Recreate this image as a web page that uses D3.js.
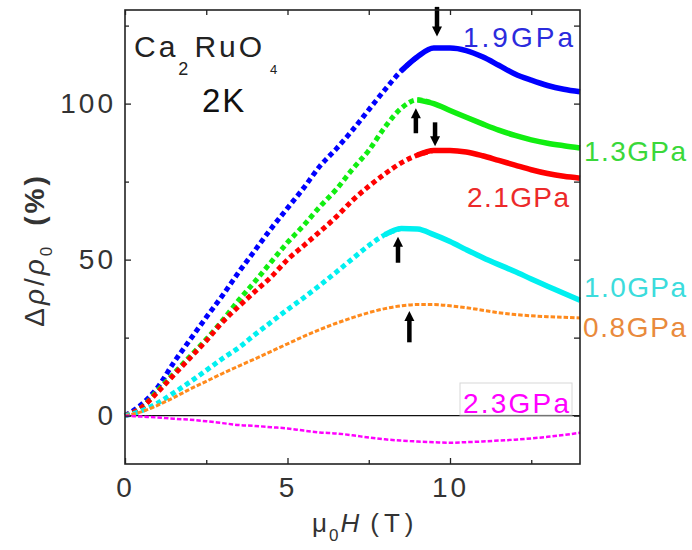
<!DOCTYPE html>
<html>
<head>
<meta charset="utf-8">
<script src="https://cdn.jsdelivr.net/npm/d3@7"></script>
<style>
body { margin: 0; background: #fff; }
svg { display: block; }
</style>
</head>
<body>
<script>
// field values (T)
var fieldT = [0, 0.5, 1, 1.5, 2, 2.5, 3, 3.5, 4, 4.5, 5, 5.5, 6, 6.5, 7,
              7.5, 8, 8.5, 9, 9.5, 10, 10.5, 11, 11.5, 12, 12.5, 13, 13.5, 14];

// magnetoresistance (%) for each pressure
var mr19 = [0, 3.5, 9, 17, 24.3, 31.5, 38.5, 46, 53, 60, 66.5, 73, 80, 85.5, 91.5,
            98, 104.5, 110.5, 115, 117.8, 117.8, 117, 115, 112.3, 109.5, 107.5, 105.8, 104.6, 103.8];
var mr13 = [0, 2.5, 8, 13.5, 19, 24.5, 30.5, 37, 43, 49.3, 55.5, 61, 67, 72.5, 79,
            85, 92.5, 98.5, 101.2, 100, 97.8, 95.6, 93.5, 91.5, 89.8, 88.4, 87.3, 86.5, 85.8];
var mr21 = [0, 2.5, 7.5, 13, 18.5, 24, 30, 35, 39.8, 44.5, 50, 54.5, 59, 63.7, 69,
            73.5, 77.5, 81, 83.5, 85, 85, 84.5, 83.3, 81.8, 80.3, 78.8, 77.6, 76.7, 76.1];
var mr10 = [0, 1.5, 4, 7.3, 10.8, 14.5, 18.3, 21.8, 26, 30, 34, 37.8, 41.8, 46, 50.3,
            54.5, 58, 60, 59.8, 58, 55.8, 53.2, 50.7, 48.4, 46.2, 43.8, 41.5, 39.2, 37];
var mr08 = [0, 1.2, 3.3, 5.8, 8.5, 11, 13.5, 15.9, 18.2, 20.6, 23, 25.4, 27.6, 29.6, 31.4,
            33, 34.3, 35.2, 35.6, 35.6, 35.2, 34.6, 33.8, 33, 32.4, 32, 31.7, 31.5, 31.3];
var mr23 = [0, -0.3, -0.6, -1.0, -1.3, -1.8, -2.4, -3.0, -3.3, -3.7, -4.1, -4.8, -5.4, -5.7, -6.3,
            -7.0, -7.6, -8.0, -8.3, -8.5, -8.7, -8.5, -8.3, -8.0, -7.7, -7.3, -6.8, -6.2, -5.5];

var pressureLabels = ['1.9GPa', '1.3GPa', '2.1GPa', '1.0GPa', '0.8GPa', '2.3GPa'];

// peak arrows: field, tail value, tip value
var arrowH = [9.6, 8.95, 9.54, 8.4, 8.75];
var arrowFrom = [131, 90.5, 94, 49, 23.5];
var arrowTo = [121.5, 98.5, 86.3, 57.3, 33.5];

var xTicks = [0, 5, 10], xMinor = [2.5, 7.5, 12.5];
var yTicks = [0, 50, 100], yMinor = [25, 75, 125];

var width = 692, height = 550;
var margin = {top: 10, right: 112, bottom: 86, left: 125};

// look of each curve (same order as pressureLabels)
var styles = [
    {color: '#0000ff', text: '#2b2bdd', w: 5, solidFrom: 8.8, lx: 463, ly: 47, len: 110},
    {color: '#11ee11', text: '#3ad83a', w: 5, solidFrom: 9.2, lx: 584, ly: 161, len: 102},
    {color: '#ff0000', text: '#ec2a2a', w: 5, solidFrom: 9.3, lx: 467, ly: 207, len: 102},
    {color: '#00f0f0', text: '#3cdcdc', w: 5, solidFrom: 8.3, lx: 584, ly: 297, len: 102},
    {color: '#ff8a1c', text: '#e98a3c', w: 3, solidFrom: null, lx: 583, ly: 337, len: 103},
    {color: '#ff00ff', text: '#ff00ff', w: 2.5, solidFrom: null, lx: 463, ly: 413, len: 106}
];
var allSeries = [mr19, mr13, mr21, mr10, mr08, mr23];

var svg = d3.select('body')
        .append('svg')
        .attr('width', width)
        .attr('height', height)
        .style('font-family', 'Arial, "Liberation Sans", sans-serif');

var x = d3.scaleLinear().domain([0, 14]).range([margin.left, width - margin.right]);
var y = d3.scaleLinear().domain([-15.5, 130]).range([height - margin.bottom, margin.top]);

var x0 = margin.left, x1 = width - margin.right;
var y0 = height - margin.bottom, y1 = margin.top;

// zero line
svg.append('line')
        .attr('x1', x0).attr('x2', x1)
        .attr('y1', y(0)).attr('y2', y(0))
        .attr('stroke', '#111')
        .attr('stroke-width', 1.2);

// Curves
var line = d3.line()
        .x(function(d) { return x(d[0]); })
        .y(function(d) { return y(d[1]); })
        .curve(d3.curveMonotoneX);

for (var s = 0; s < allSeries.length; s++) {
    var st = styles[s];
    var pts = fieldT.map(function(h, i) { return [h, allSeries[s][i]]; });
    if (st.solidFrom !== null) {
        var lo = pts.filter(function(d) { return d[0] <= st.solidFrom + 0.5; });
        var hi = pts.filter(function(d) { return d[0] >= st.solidFrom - 0.5; });
        svg.append('path')
                .attr('d', line(lo))
                .attr('fill', 'none')
                .attr('stroke', st.color)
                .attr('stroke-width', st.w)
                .attr('stroke-dasharray', '5 3.5');
        svg.append('path')
                .attr('d', line(hi))
                .attr('fill', 'none')
                .attr('stroke', st.color)
                .attr('stroke-width', st.w + 0.5);
    } else {
        svg.append('path')
                .attr('d', line(pts))
                .attr('fill', 'none')
                .attr('stroke', st.color)
                .attr('stroke-width', st.w)
                .attr('stroke-dasharray', '4.5 2');
    }
}

// Arrows marking the peaks
for (var a = 0; a < arrowH.length; a++) {
    var ax = x(arrowH[a]), ya = y(arrowFrom[a]), yb = y(arrowTo[a]);
    var dir = yb > ya ? 1 : -1;
    svg.append('line')
            .attr('x1', ax).attr('x2', ax)
            .attr('y1', ya).attr('y2', yb - dir * 6)
            .attr('stroke', '#000')
            .attr('stroke-width', 4.5);
    svg.append('path')
            .attr('d', 'M' + (ax - 5) + ',' + (yb - dir * 10) + 'L' + (ax + 5) + ',' + (yb - dir * 10) + 'L' + ax + ',' + yb + 'Z')
            .attr('fill', '#000');
}

// Axes
function styleAxis(g) {
    g.select('.domain').remove();
    g.selectAll('.tick line').attr('stroke', '#222').attr('stroke-width', 1.3);
    g.selectAll('text')
            .attr('fill', '#333')
            .style('font-size', '28px')
            .style('letter-spacing', '3px');
}

svg.append('g').attr('transform', 'translate(0,' + y0 + ')')
        .call(d3.axisBottom(x).tickValues(xTicks).tickSizeInner(-6).tickSizeOuter(0).tickPadding(13).tickFormat(d3.format('d')))
        .call(styleAxis);
svg.append('g').attr('transform', 'translate(0,' + y0 + ')')
        .call(d3.axisBottom(x).tickValues(xMinor).tickSizeInner(-4).tickSizeOuter(0).tickFormat(''))
        .call(styleAxis);
svg.append('g').attr('transform', 'translate(0,' + y1 + ')')
        .call(d3.axisTop(x).tickValues(xTicks.concat(xMinor)).tickSizeInner(-5).tickSizeOuter(0).tickFormat(''))
        .call(styleAxis);

svg.append('g').attr('transform', 'translate(' + x0 + ',0)')
        .call(d3.axisLeft(y).tickValues(yTicks).tickSizeInner(-6).tickSizeOuter(0).tickPadding(9).tickFormat(d3.format('d')))
        .call(styleAxis);
svg.append('g').attr('transform', 'translate(' + x0 + ',0)')
        .call(d3.axisLeft(y).tickValues(yMinor).tickSizeInner(-4).tickSizeOuter(0).tickFormat(''))
        .call(styleAxis);
svg.append('g').attr('transform', 'translate(' + x1 + ',0)')
        .call(d3.axisRight(y).tickValues(yTicks.concat(yMinor)).tickSizeInner(-6).tickSizeOuter(0).tickFormat(''))
        .call(styleAxis);

// Frame
svg.append('rect')
        .attr('x', x0).attr('y', y1)
        .attr('width', x1 - x0).attr('height', y0 - y1)
        .attr('fill', 'none')
        .attr('stroke', '#222')
        .attr('stroke-width', 1.6);

// Pressure labels
svg.append('rect')
        .attr('x', 460).attr('y', 383)
        .attr('width', 112).attr('height', 32)
        .attr('fill', '#fff')
        .attr('stroke', '#d8d8d8')
        .attr('stroke-width', 1);

svg.selectAll('text.plabel').data(pressureLabels).enter()
        .append('text')
        .attr('class', 'plabel')
        .attr('x', function(d, i) { return styles[i].lx; })
        .attr('y', function(d, i) { return styles[i].ly; })
        .attr('fill', function(d, i) { return styles[i].text; })
        .attr('textLength', function(d, i) { return styles[i].len; })
        .attr('lengthAdjust', 'spacing')
        .style('font-size', '28px')
        .text(function(d) { return d; });

// Sample and temperature
var title = svg.append('text')
        .attr('x', 134).attr('y', 57)
        .attr('fill', '#222')
        .style('font-size', '30px')
        .style('letter-spacing', '3px');
title.append('tspan').text('Ca');
title.append('tspan').attr('dy', 18).style('font-size', '18px').text('2');
title.append('tspan').attr('dy', -18).attr('dx', 3).text('RuO');
title.append('tspan').attr('dy', 17).attr('dx', 5).style('font-size', '13px').text('4');

svg.append('text')
        .attr('x', 202).attr('y', 112)
        .attr('fill', '#111')
        .style('font-size', '33px')
        .style('letter-spacing', '2px')
        .text('2K');

// Axis titles
var xt = svg.append('text')
        .attr('x', 312).attr('y', 532)
        .attr('fill', '#333')
        .style('font-size', '26px')
        .style('letter-spacing', '2px');
xt.append('tspan').text('\u03bc');
xt.append('tspan').attr('dy', 9).style('font-size', '17px').text('0');
xt.append('tspan').attr('dy', -9).style('font-style', 'italic').text('H');
xt.append('tspan').attr('dx', 9).style('letter-spacing', '5px').text('(T)');

var yt = svg.append('text')
        .attr('transform', 'translate(44,250) rotate(-90)')
        .attr('text-anchor', 'middle')
        .attr('fill', '#333')
        .style('font-size', '28px')
        .style('letter-spacing', '3px');
yt.append('tspan').text('\u0394');
yt.append('tspan').style('font-style', 'italic').text('\u03c1');
yt.append('tspan').text('/');
yt.append('tspan').style('font-style', 'italic').text('\u03c1');
yt.append('tspan').attr('dy', 8).style('font-size', '17px').text('0');
yt.append('tspan').attr('dy', -8).attr('dx', 18).style('font-weight', 'bold').text('(%)');
</script>
</body>
</html>
